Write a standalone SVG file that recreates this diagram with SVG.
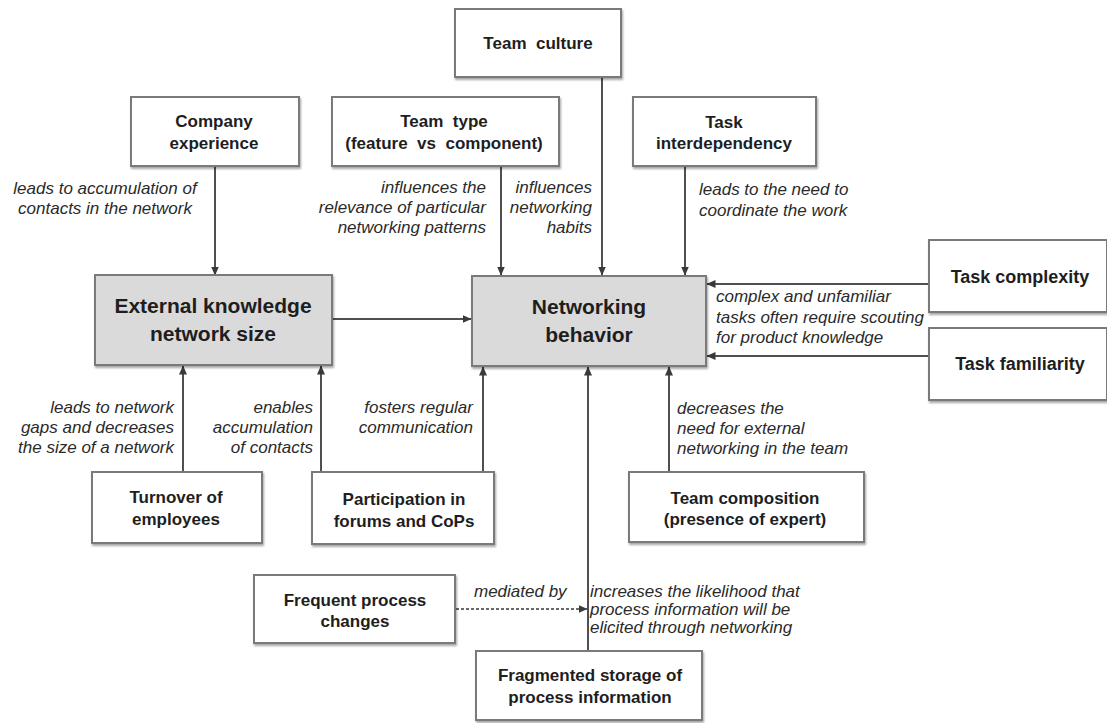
<svg xmlns="http://www.w3.org/2000/svg" width="1107" height="723" viewBox="0 0 1107 723">
  <defs>
    <filter id="shadow" x="-5%" y="-5%" width="115%" height="125%">
      <feDropShadow dx="1" dy="2" stdDeviation="1.2" flood-color="#000" flood-opacity="0.35"/>
    </filter>
    <marker id="arrow" markerUnits="userSpaceOnUse" markerWidth="9" markerHeight="8" refX="8.5" refY="4" orient="auto">
      <path d="M0,0 L9,4 L0,8 z" fill="#3a3a3a"/>
    </marker>
    <style>
      .box { fill: #ffffff; stroke: #7a7a7a; stroke-width: 2; filter: url(#shadow); }
      .core { fill: #dadada; stroke: #7a7a7a; stroke-width: 2; filter: url(#shadow); }
      .lbl { font-family: "Liberation Sans", Arial, sans-serif; font-weight: bold; font-size: 17px; fill: #1e1e1e; text-anchor: middle; white-space: pre; }
      .big { font-size: 21px; }
      .mid { font-size: 18px; }
      .note { font-family: "Liberation Sans", Arial, sans-serif; font-style: italic; font-size: 17px; fill: #2a2a2a; }
      .r { text-anchor: end; }
      .c { text-anchor: middle; }
      .edge { stroke: #505050; stroke-width: 2; fill: none; marker-end: url(#arrow); }
      .dotted { stroke-dasharray: 3 2; stroke: #6a6a6a; }
    </style>
  </defs>

  <rect width="1107" height="723" fill="#ffffff"/>

  <!-- connectors -->
  <g id="connectors">
    <line class="edge" x1="215" y1="167" x2="215" y2="275"/>
    <line class="edge" x1="332" y1="319" x2="471" y2="319"/>
    <line class="edge" x1="501" y1="166" x2="501" y2="275"/>
    <line class="edge" x1="602" y1="78" x2="602" y2="275"/>
    <line class="edge" x1="685" y1="166" x2="685" y2="275"/>
    <line class="edge" x1="929" y1="284" x2="707" y2="284"/>
    <line class="edge" x1="929" y1="356" x2="707" y2="356"/>
    <line class="edge" x1="183" y1="472" x2="183" y2="366"/>
    <line class="edge" x1="321" y1="472" x2="321" y2="366"/>
    <line class="edge" x1="483" y1="472" x2="483" y2="367"/>
    <line class="edge" x1="669" y1="472" x2="669" y2="367"/>
    <line class="edge" x1="588" y1="651" x2="588" y2="367"/>
    <line class="edge dotted" x1="456" y1="609" x2="587" y2="609"/>
  </g>

  <!-- connector labels -->
  <g id="edge-labels">
    <text class="note c" x="105" y="194">leads to accumulation of</text>
    <text class="note c" x="105" y="214">contacts in the network</text>

    <text class="note r" x="486" y="193">influences the</text>
    <text class="note r" x="486" y="213">relevance of particular</text>
    <text class="note r" x="486" y="233">networking patterns</text>

    <text class="note r" x="592" y="193">influences</text>
    <text class="note r" x="592" y="213">networking</text>
    <text class="note r" x="592" y="233">habits</text>

    <text class="note" x="699" y="195">leads to the need to</text>
    <text class="note" x="699" y="216">coordinate the work</text>

    <text class="note" x="716" y="302">complex and unfamiliar</text>
    <text class="note" x="716" y="323">tasks often require scouting</text>
    <text class="note" x="716" y="343">for product knowledge</text>

    <text class="note r" x="174" y="413">leads to network</text>
    <text class="note r" x="174" y="433">gaps and decreases</text>
    <text class="note r" x="174" y="453">the size of a network</text>

    <text class="note r" x="313" y="413">enables</text>
    <text class="note r" x="313" y="433">accumulation</text>
    <text class="note r" x="313" y="453">of contacts</text>

    <text class="note r" x="473" y="413">fosters regular</text>
    <text class="note r" x="473" y="433">communication</text>

    <text class="note" x="677" y="414">decreases the</text>
    <text class="note" x="677" y="434">need for external</text>
    <text class="note" x="677" y="454">networking in the team</text>

    <text class="note" x="474" y="597">mediated by</text>

    <text class="note" x="590" y="597">increases the likelihood that</text>
    <text class="note" x="590" y="615">process information will be</text>
    <text class="note" x="590" y="633">elicited through networking</text>
  </g>

  <!-- nodes -->
  <g id="team-culture">
    <rect class="box" x="455" y="9" width="166" height="68"/>
    <text class="lbl" x="538" y="49">Team  culture</text>
  </g>

  <g id="company-experience">
    <rect class="box" x="131" y="97" width="168" height="69"/>
    <text class="lbl" x="214" y="127">Company</text>
    <text class="lbl" x="214" y="149">experience</text>
  </g>

  <g id="team-type">
    <rect class="box" x="332" y="97" width="227" height="69"/>
    <text class="lbl" x="444" y="127">Team  type</text>
    <text class="lbl" x="444" y="149">(feature  vs  component)</text>
  </g>

  <g id="task-interdependency">
    <rect class="box" x="633" y="97" width="183" height="69"/>
    <text class="lbl" x="724" y="128">Task</text>
    <text class="lbl" x="724" y="149">interdependency</text>
  </g>

  <g id="external-knowledge">
    <rect class="core" x="95" y="275" width="237" height="90"/>
    <text class="lbl big" x="213" y="313">External knowledge</text>
    <text class="lbl big" x="213" y="341">network size</text>
  </g>

  <g id="networking-behavior">
    <rect class="core" x="472" y="276" width="234" height="90"/>
    <text class="lbl big" x="589" y="314">Networking</text>
    <text class="lbl big" x="589" y="342">behavior</text>
  </g>

  <g id="task-complexity">
    <rect class="box" x="929" y="240" width="178" height="72"/>
    <text class="lbl mid" x="1020" y="283">Task complexity</text>
  </g>

  <g id="task-familiarity">
    <rect class="box" x="929" y="328" width="178" height="72"/>
    <text class="lbl mid" x="1020" y="370">Task familiarity</text>
  </g>

  <g id="turnover">
    <rect class="box" x="92" y="472" width="170" height="71"/>
    <text class="lbl" x="176" y="503">Turnover of</text>
    <text class="lbl" x="176" y="525">employees</text>
  </g>

  <g id="participation">
    <rect class="box" x="312" y="472" width="182" height="72"/>
    <text class="lbl" x="404" y="505">Participation in</text>
    <text class="lbl" x="404" y="527">forums and CoPs</text>
  </g>

  <g id="team-composition">
    <rect class="box" x="629" y="472" width="235" height="70"/>
    <text class="lbl" x="745" y="504">Team composition</text>
    <text class="lbl" x="745" y="525">(presence of expert)</text>
  </g>

  <g id="frequent-process-changes">
    <rect class="box" x="254" y="575" width="201" height="68"/>
    <text class="lbl" x="355" y="606">Frequent process</text>
    <text class="lbl" x="355" y="627">changes</text>
  </g>

  <g id="fragmented-storage">
    <rect class="box" x="476" y="651" width="226" height="69"/>
    <text class="lbl" x="590" y="681">Fragmented storage of</text>
    <text class="lbl" x="590" y="703">process information</text>
  </g>
</svg>
